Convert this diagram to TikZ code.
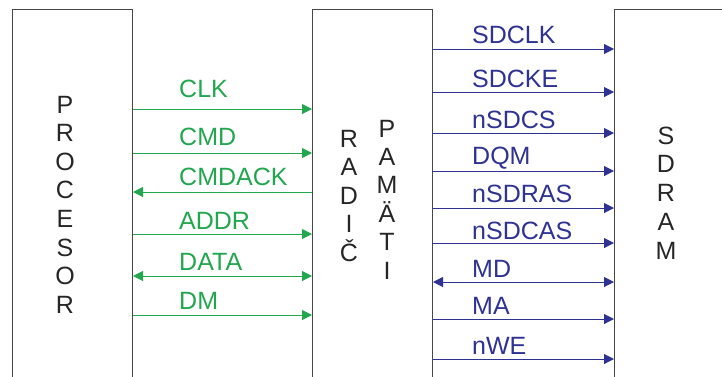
\documentclass[tikz,border=0pt]{standalone}
\usepackage{fontspec}
\setmainfont{Liberation Sans}
\usetikzlibrary{arrows.meta}
\definecolor{sigGreen}{RGB}{34,167,78}
\definecolor{sigBlue}{RGB}{46,50,146}
\definecolor{boxGray}{RGB}{70,70,70}

\begin{document}
\begin{tikzpicture}[x=1pt, y=-1pt,
  >={Triangle[length=10pt,width=10pt]},
  block/.style={draw=boxGray, line width=1pt, minimum width=120pt,
    minimum height=420pt, anchor=north west, inner sep=0pt},
  letter/.style={anchor=base, inner sep=0pt, font=\fontsize{25}{30}\selectfont, text=black!85},
  gsig/.style={draw=sigGreen, fill=sigGreen, line width=1pt},
  bsig/.style={draw=sigBlue, fill=sigBlue, line width=1pt},
  glabel/.style={anchor=base west, inner sep=0pt, text=sigGreen, font=\fontsize{25}{30}\selectfont},
  blabel/.style={anchor=base west, inner sep=0pt, text=sigBlue, font=\fontsize{25}{30}\selectfont}]
\useasboundingbox (0,0) rectangle (722,376);

% the three blocks
\node[block] (proc) at (12,9) {};
\node[block] (radic) at (312,9) {};
\node[block] (sdram) at (614,9) {};

% vertical names
\foreach \ch [count=\i from 0] in {P,R,O,C,E,S,O,R}
  \node[letter] (procL\i) at (65,113+28.6*\i) {\ch};
\foreach \ch [count=\i from 0] in {R,A,D,I,Č}
  \node[letter] (radL\i) at (349,147+28.5*\i) {\ch};
\foreach \ch [count=\i from 0] in {P,A,M,Ä,T,I}
  \node[letter] (pamL\i) at (387,137+28.4*\i) {\ch};
\foreach \ch [count=\i from 0] in {S,D,R,A,M}
  \node[letter] (sdrL\i) at (666,144+28.75*\i) {\ch};

% processor <-> controller
\foreach \y/\b/\txt/\dir in {109/97/CLK/->, 153/145/CMD/->, 192/185/CMDACK/<-,
    234/229/ADDR/->, 276/270/DATA/<->, 315/309/DM/->} {
  \draw[gsig,\dir] (proc.east |- 0,\y) -- (radic.west |- 0,\y);
  \node[glabel] (g\txt) at (179,\b) {\txt};
}

% controller <-> SDRAM
\foreach \y/\b/\txt/\dir in {49/43/SDCLK/->, 92/87/SDCKE/->, 133/128/nSDCS/->,
    171/164/DQM/->, 208/202/nSDRAS/->, 243/239/nSDCAS/->, 282/277/MD/<->,
    319/314/MA/->, 359/354/nWE/->} {
  \draw[bsig,\dir] (radic.east |- 0,\y) -- (sdram.west |- 0,\y);
  \node[blabel] (b\txt) at (472,\b) {\txt};
}
\end{tikzpicture}
\end{document}
